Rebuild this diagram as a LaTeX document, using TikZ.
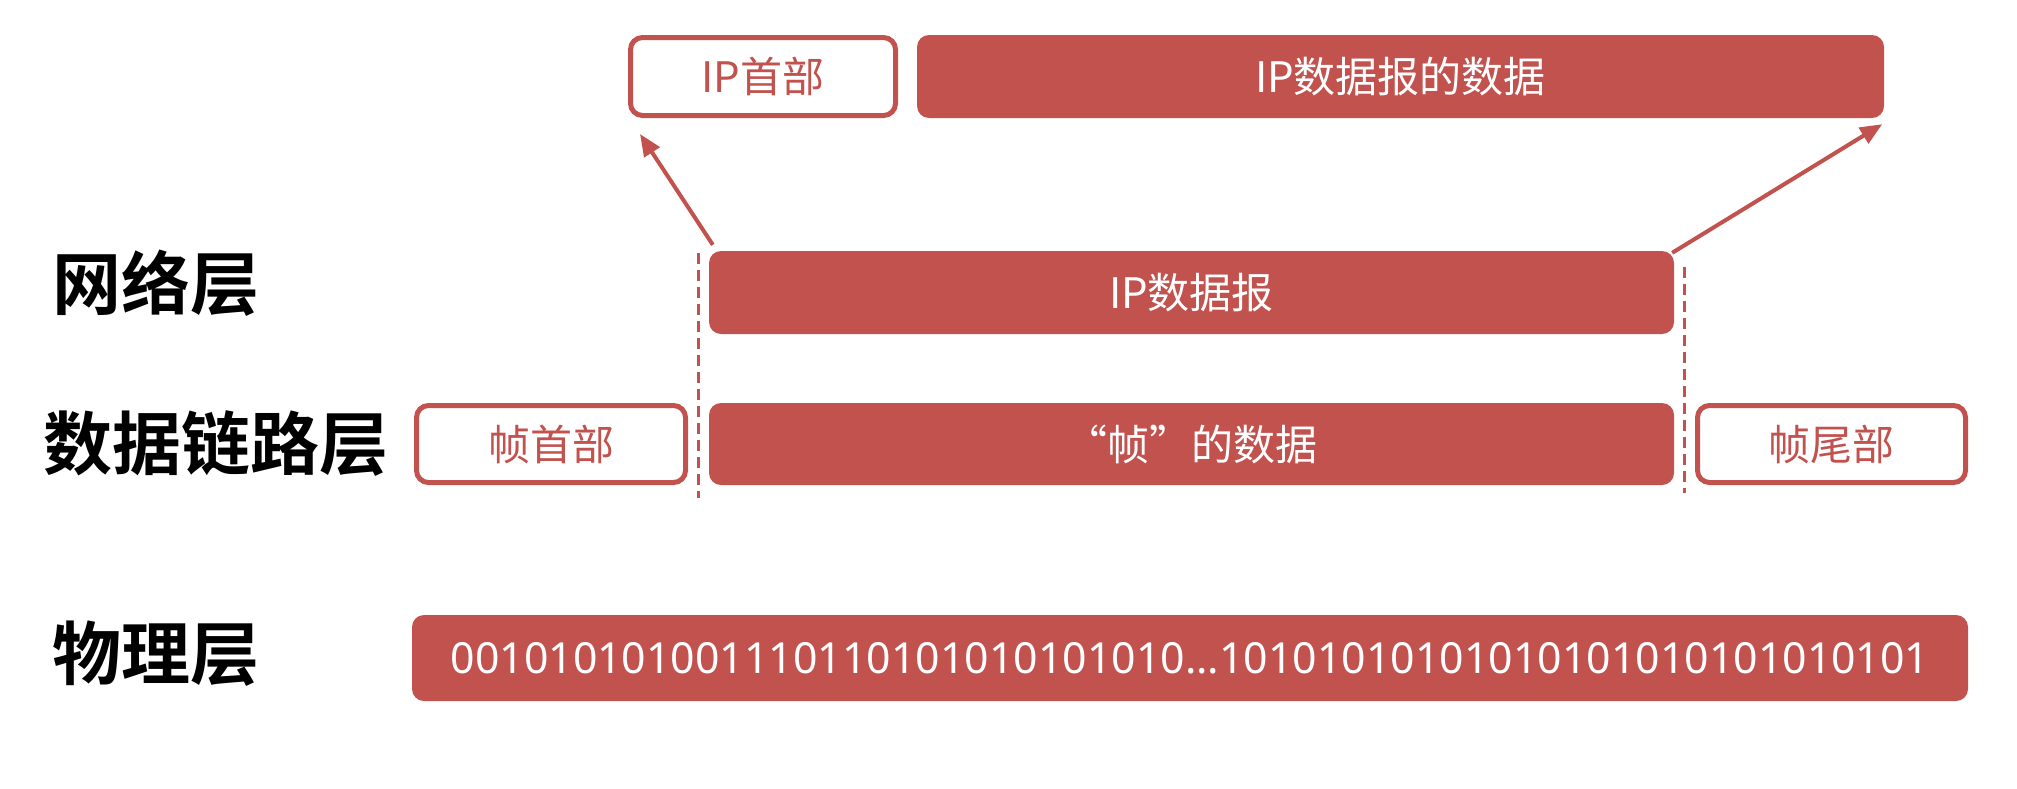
\documentclass[tikz,border=0pt]{standalone}
\usepackage{fontspec}
\setmainfont{Noto Sans}
\newfontfamily\cjk{Noto Sans CJK SC}[BoldFont={Noto Sans CJK SC Bold}]
\usetikzlibrary{arrows.meta,calc}
\definecolor{brick}{RGB}{194,82,78}
\tikzset{
  box/.style={rectangle, rounded corners=12pt, inner sep=0pt, font={\cjk\fontsize{42pt}{50pt}\selectfont}},
  filledbox/.style={box, fill=brick, text=white},
  outlinebox/.style={box, draw=brick, line width=5pt, text=brick},
  layerlabel/.style={anchor=west, inner sep=0pt, font={\cjk\bfseries\fontsize{69pt}{80pt}\selectfont}},
  conn/.style={draw=brick, line width=4pt, -{Triangle[length=22pt,width=18pt]}},
  guide/.style={draw=brick, line width=3pt, dash pattern=on 11pt off 6pt}
}
\begin{document}
\begin{tikzpicture}[x=1pt,y=-1pt]
\useasboundingbox[fill=white] (0,0) rectangle (2017,788);
% boxes
\node[outlinebox, minimum width=265pt, minimum height=78pt] (iphdr) at (763,76.5) {IP首部};
\node[filledbox, minimum width=967pt, minimum height=83pt] (ipdata) at (1400.5,76.5) {IP数据报的数据};
\node[filledbox, minimum width=965pt, minimum height=83pt] (ipdg) at (1191.5,292.5) {IP数据报};
\node[outlinebox, minimum width=269pt, minimum height=77pt] (fhdr) at (551,444) {帧首部};
\node[filledbox, minimum width=965pt, minimum height=82pt] (fdata) at (1191.5,444) {“帧”的数据};
\node[outlinebox, minimum width=268pt, minimum height=77pt] (ftail) at (1831.5,444) {帧尾部};
\node[filledbox, minimum width=1556pt, minimum height=86pt, font={\fontsize{42.8pt}{50pt}\selectfont}] (phys) at (1190,658) {001010101001110110101010101010...10101010101010101010101010101};
% layer labels
\node[layerlabel] (lnet) at (52,283) {网络层};
\node[layerlabel] (llink) at (43,444) {数据链路层};
\node[layerlabel] (lphys) at (52,654) {物理层};
% guides
\coordinate (g1s) at ($(ipdg.north west)+(-10,2)$);
\coordinate (g1e) at ($(fdata.south west)+(-10,13)$);
\coordinate (g2s) at ($(ipdg.north east)+(10,16)$);
\coordinate (g2e) at ($(fdata.south east)+(10,8)$);
\draw[guide] (g1s) -- (g1e);
\draw[guide] (g2s) -- (g2e);
% arrows
\coordinate (a1s) at ($(ipdg.north west)+(4,-6)$);
\coordinate (a1e) at ($(iphdr.south west)+(12,16)$);
\coordinate (a2s) at ($(ipdg.north east)+(-2,2)$);
\coordinate (a2e) at ($(ipdata.south east)+(-2,6)$);
\draw[conn] (a1s) -- (a1e);
\draw[conn] (a2s) -- (a2e);
\end{tikzpicture}
\end{document}
